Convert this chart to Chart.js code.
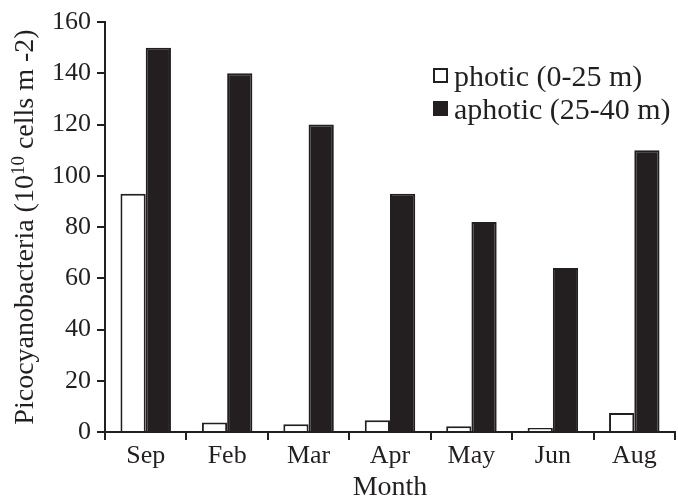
<!DOCTYPE html>
<html>
<head>
<meta charset="utf-8">
<script src="https://cdn.jsdelivr.net/npm/chart.js@4"></script>
<style>
  html, body { margin: 0; padding: 0; background: #fff; }
  #wrap { position: relative; width: 678px; height: 504px; }
  #legend { position: absolute; left: 433px; top: 59px; font-family: "Liberation Serif", serif; font-size: 30px; color: #231f20; }
  #legend div { display: flex; align-items: center; height: 33px; white-space: nowrap; }
  #legend span.box { display: inline-block; box-sizing: border-box; width: 15px; height: 15px; border: 2px solid #231f20; margin-right: 6px; }
</style>
</head>
<body>
<div id="wrap">
  <canvas id="chartCanvas" width="678" height="504"></canvas>
  <div id="legend"></div>
</div>
<script>
const months = ['Sep', 'Feb', 'Mar', 'Apr', 'May', 'Jun', 'Aug'];
const photic = [93, 3.7, 3.0, 4.6, 2.2, 1.6, 7.4];
const aphotic = [150, 140, 120, 93, 82, 64, 110];
const yTicks = [0, 20, 40, 60, 80, 100, 120, 140, 160];

const ink = '#231f20';
const serif = "'Liberation Serif', 'Times New Roman', serif";

// y title drawn in pieces so the exponent can sit raised
const yTitlePlugin = {
    id: 'yTitle',
    afterDraw(chart) {
        const c = chart.ctx;
        const area = chart.chartArea;
        const parts = [
            { text: 'Picocyanobacteria (10', size: 28, rise: 0 },
            { text: '10', size: 19, rise: 9 },
            { text: ' cells m -2)', size: 28, rise: 0 }
        ];
        c.save();
        c.fillStyle = ink;
        c.textBaseline = 'alphabetic';
        c.textAlign = 'left';
        let total = 0;
        parts.forEach(p => {
            c.font = p.size + 'px ' + serif;
            p.w = c.measureText(p.text).width;
            total += p.w;
        });
        c.translate(33, (area.top + area.bottom) / 2);
        c.rotate(-Math.PI / 2);
        let x = -total / 2;
        parts.forEach(p => {
            c.font = p.size + 'px ' + serif;
            c.fillText(p.text, x, -p.rise);
            x += p.w;
        });
        c.restore();
    }
};

const ctx = document.getElementById('chartCanvas').getContext('2d');

let chartInstance = new Chart(ctx, {
    type: 'bar',
    data: {
        labels: months,
        datasets: [
            { label: 'photic (0-25 m)', data: photic, backgroundColor: '#ffffff', borderColor: ink, borderWidth: 2 },
            { label: 'aphotic (25-40 m)', data: aphotic, backgroundColor: ink, borderColor: ink, borderWidth: 2 }
        ]
    },
    options: {
        responsive: false,
        animation: false,
        layout: { padding: { left: 0, top: 22, right: 3, bottom: 0 } },
        datasets: { bar: { barPercentage: 1, categoryPercentage: 0.62 } },
        plugins: { legend: { display: false }, tooltip: { enabled: false } },
        scales: {
            x: {
                grid: { drawOnChartArea: false, color: ink, lineWidth: 2, tickLength: 8 },
                border: { color: ink, width: 2 },
                ticks: { color: ink, font: { family: serif, size: 26 }, padding: 1 },
                title: { display: true, text: 'Month', color: ink, font: { family: serif, size: 28 }, padding: { top: 0, bottom: 0 } },
                afterFit: scale => { scale.height = 72; }
            },
            y: {
                min: 0,
                max: 160,
                afterBuildTicks: scale => { scale.ticks = yTicks.map(v => ({ value: v })); },
                grid: { drawOnChartArea: false, color: ink, lineWidth: 2, tickLength: 8 },
                border: { color: ink, width: 2 },
                ticks: { color: ink, font: { family: serif, size: 26 }, padding: 6 },
                title: { display: false },
                afterFit: scale => { scale.width = 105; }
            }
        }
    },
    plugins: [yTitlePlugin]
});

// html legend built from the datasets
const legendBox = document.getElementById('legend');
chartInstance.data.datasets.forEach(ds => {
    let row = document.createElement('div');
    let box = document.createElement('span');
    box.className = 'box';
    box.style.background = ds.backgroundColor;
    row.appendChild(box);
    row.appendChild(document.createTextNode(ds.label));
    legendBox.appendChild(row);
});
</script>
</body>
</html>
